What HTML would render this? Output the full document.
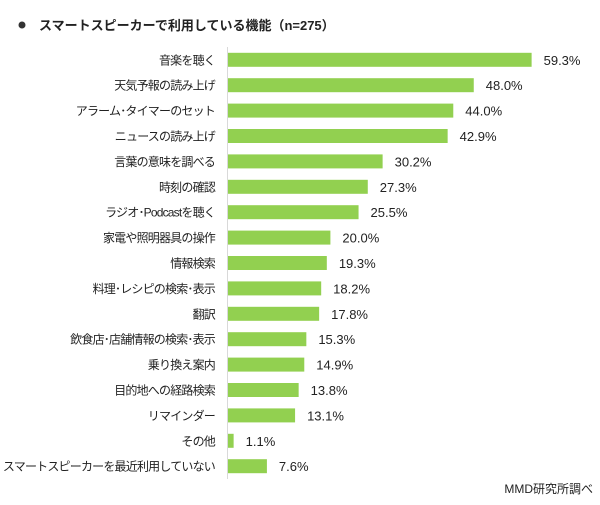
<!DOCTYPE html>
<html><head><meta charset="utf-8"><style>
body{margin:0;background:#fff;}
svg text{font-family:"Liberation Sans","Noto Sans CJK JP",sans-serif;fill:#222;}
</style></head><body>
<svg width="600" height="500">
<circle cx="22" cy="25" r="3.5" fill="#333"/>
<text x="39" y="30" font-size="13" font-weight="bold" fill="#333">スマートスピーカーで利用している機能（n=275）</text>
<g id="bars"></g>
<line x1="227.5" y1="47" x2="227.5" y2="479" stroke="#d9d9d9"/>
<text x="593" y="493" font-size="12" text-anchor="end" fill="#333">MMD研究所調べ</text>
</svg>
<script>
const categories=["音楽を聴く","天気予報の読み上げ","アラーム・タイマーのセット","ニュースの読み上げ","言葉の意味を調べる","時刻の確認","ラジオ・Podcastを聴く","家電や照明器具の操作","情報検索","料理・レシピの検索・表示","翻訳","飲食店・店舗情報の検索・表示","乗り換え案内","目的地への経路検索","リマインダー","その他","スマートスピーカーを最近利用していない"];
const values=[59.3,48.0,44.0,42.9,30.2,27.3,25.5,20.0,19.3,18.2,17.8,15.3,14.9,13.8,13.1,1.1,7.6];
const x0=228,pxPer=5.12,y0=59.8,step=25.4,bh=14;
const xs=v=>x0+v*pxPer, ys=i=>y0+i*step;
const g=document.getElementById('bars'),NS="http://www.w3.org/2000/svg";
categories.forEach((c,i)=>{
 const cy=ys(i);
 const r=document.createElementNS(NS,'rect');
 r.setAttribute('x',x0);r.setAttribute('y',cy-bh/2);r.setAttribute('width',xs(values[i])-x0);r.setAttribute('height',bh);r.setAttribute('fill','#92d050');
 
 
 g.appendChild(r);
 const t=document.createElementNS(NS,'text');
 t.setAttribute('x',215);t.setAttribute('y',cy+4.5);t.setAttribute('font-size','12');t.setAttribute('letter-spacing','-0.8');t.setAttribute('text-anchor','end');t.textContent=c.replace(/・/g,'･');
 
 
 g.appendChild(t);
 const v=document.createElementNS(NS,'text');
 v.setAttribute('x',xs(values[i])+12);v.setAttribute('y',cy+5);v.setAttribute('font-size','13');v.textContent=values[i].toFixed(1)+'%';
 
 
 g.appendChild(v);
});
</script>
</body></html>
